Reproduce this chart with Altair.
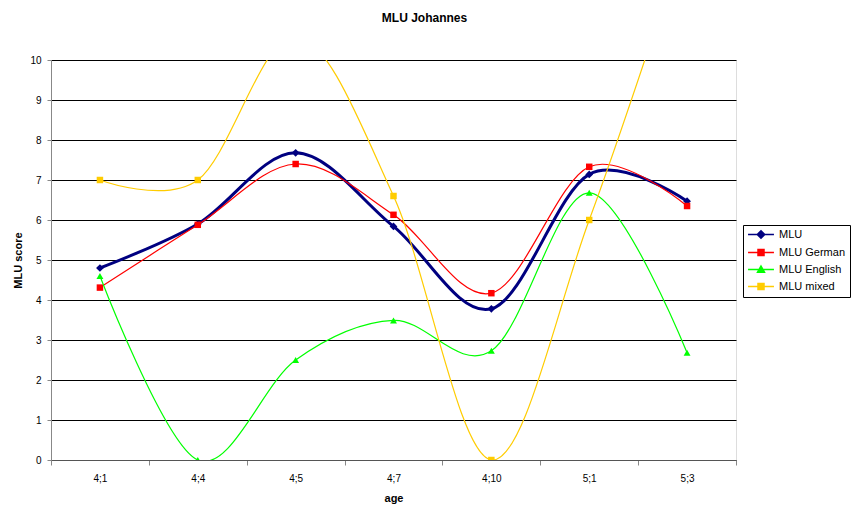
import altair as alt
import pandas as pd

ages = ["4;1", "4;4", "4;5", "4;7", "4;10", "5;1", "5;3"]
series_names = ["MLU", "MLU German", "MLU English", "MLU mixed"]
mlu = [4.8, 5.9, 7.68, 5.84, 3.78, 7.14, 6.47]
mlu_german = [4.31, 5.88, 7.4, 6.13, 4.17, 7.33, 6.35]
mlu_english = [4.6, 0.0, 2.5, 3.49, 2.73, 6.68, 2.68]
mlu_mixed = [7.0, 7.0, 10.6, 6.6, 0.0, 6.0, 13.2]

colors = ["#000080", "#FF0000", "#00FF00", "#FFCC00"]
widths = [3, 1.2, 1.2, 1.2]
shapes = ["diamond", "square", "triangle-up", "square"]
sizes = [60, 42, 48, 42]

values = [mlu, mlu_german, mlu_english, mlu_mixed]
rows = []
for name, vals in zip(series_names, values):
    for a, v in zip(ages, vals):
        rows.append({"age": a, "series": name, "value": v})
df = pd.DataFrame(rows)

FONT = "Liberation Sans"

x_enc = alt.X("age:N", sort=ages, bandPosition=0.5,
              scale=alt.Scale(type="band", domain=ages, paddingInner=0, paddingOuter=0),
              axis=alt.Axis(title="age", tickBand="extent", labelAngle=0, grid=False,
                            tickSize=5, labelPadding=8, titlePadding=9,
                            titleFontWeight="bold", domainColor="#555555"))
y_enc = alt.Y("value:Q", scale=alt.Scale(domain=[0, 10], nice=False, zero=False),
              axis=alt.Axis(title="MLU score", values=list(range(11)), grid=True,
                            gridColor="black", gridWidth=1, tickSize=4, labelPadding=6,
                            titlePadding=6, titleFontWeight="bold"))

base = alt.Chart(df)
layers = []
for name, c, w, s, sz in zip(series_names, colors, widths, shapes, sizes):
    sub = base.transform_filter(alt.datum.series == name)
    layers.append(sub.mark_line(interpolate="cardinal", color=c, strokeWidth=w, clip=True)
                  .encode(x=x_enc, y=y_enc))
    layers.append(sub.mark_point(shape=s, filled=True, color=c, size=sz, opacity=1, clip=True)
                  .encode(x=x_enc, y=y_enc))

legend_paths = [
    "M-3.7,0H3.7 M0,-1.07L1.07,0L0,1.07L-1.07,0Z M0,-0.53L0.53,0L0,0.53L-0.53,0Z M0,-0.15L0.15,0L0,0.15L-0.15,0Z",
    "M-3.7,0H3.7 M-0.86,-0.86H0.86V0.86H-0.86Z M-0.5,-0.5H0.5V0.5H-0.5Z M-0.15,-0.15H0.15V0.15H-0.15Z",
    "M-3.7,0H3.7 M0,-1L1,0.8H-1Z M0,-0.4L0.5,0.5H-0.5Z M0,0.02L0.15,0.29H-0.15Z",
    "M-3.7,0H3.7 M-0.86,-0.86H0.86V0.86H-0.86Z M-0.5,-0.5H0.5V0.5H-0.5Z M-0.15,-0.15H0.15V0.15H-0.15Z",
]

leg_def = dict(title=None, orient="none", legendX=692, legendY=165, padding=4,
               strokeColor="black", fillColor="white", symbolSize=49,
               symbolStrokeWidth=1.5, symbolOffset=8.5, labelOffset=12.5,
               labelFont=FONT, labelFontSize=11, labelColor="black", rowPadding=4)

legend_layer = base.transform_filter("false").mark_point(
    filled=False, opacity=1, strokeWidth=1.5, size=49
).encode(
    x=x_enc, y=y_enc,
    color=alt.Color("series:N", scale=alt.Scale(domain=series_names, range=colors),
                    legend=alt.Legend(**leg_def)),
    shape=alt.Shape("series:N", scale=alt.Scale(domain=series_names, range=legend_paths),
                    legend=alt.Legend(**leg_def)),
)
layers.append(legend_layer)

chart = alt.layer(*layers).properties(
    width=685, height=400,
    title=alt.TitleParams("MLU Johannes", font=FONT, fontSize=12, fontWeight="bold",
                          color="black", anchor="middle", dx=31, offset=30),
    autosize=alt.AutoSizeParams(type="none"),
    padding={"left": 51, "top": 60, "right": 115, "bottom": 51},
).configure_view(
    fill="#FFFFCC", stroke="#808080", strokeWidth=1
).configure_axis(
    labelFont=FONT, titleFont=FONT, labelFontSize=11, titleFontSize=11,
    labelColor="black", titleColor="black", domainColor="black", tickColor="black",
    domainWidth=1
).configure(background="white")

chart.save("out.html", embed_options={"renderer": "svg", "actions": False})
